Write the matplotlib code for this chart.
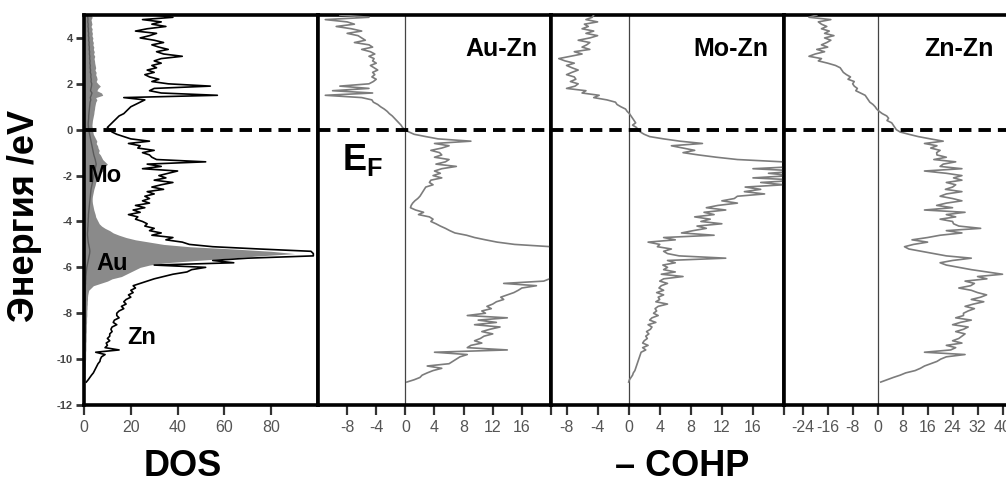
import numpy as np
import matplotlib
matplotlib.use("Agg")
import matplotlib.pyplot as plt

plt.rcParams['font.family'] = ['Liberation Sans', 'DejaVu Sans']
plt.rcParams['mathtext.fontset'] = 'custom'
plt.rcParams['mathtext.bf'] = 'Liberation Sans:bold'
plt.rcParams['mathtext.rm'] = 'Liberation Sans'

# Energy grid (eV), from +5.0 down to -11.0 in 0.1 eV steps
energy = np.round(np.linspace(5.0, -11.0, 161), 2)

# DOS (states/eV) -- Zn (black), Au (grey filled), Mo (thin dark grey)
dos_zn = [30, 38, 25, 33, 29, 35, 27, 22, 31, 28, 24,
          30, 34, 29, 32, 36, 31, 34, 42, 33, 30,
          33, 29, 31, 27, 30, 26, 28, 32, 29, 36,
          54, 30, 28, 33, 57, 17, 26, 24, 22, 20,
          19, 18, 17, 15, 14, 13, 12, 11, 10, 11,
          12, 14, 17, 20, 28, 19, 24, 23, 30, 25,
          28, 29, 31, 52, 27, 33, 25, 40, 36, 32,
          35, 30, 38, 33, 29, 34, 27, 30, 26, 28,
          25, 28, 22, 26, 21, 24, 19, 23, 22, 25,
          27, 26, 30, 28, 33, 29, 38, 35, 42, 45,
          55, 75, 97, 98, 98, 70, 55, 64, 30, 52,
          46, 44, 38, 34, 30, 27, 24, 21, 22, 20,
          21, 19, 20, 18, 17, 18, 16, 17, 15, 14,
          14, 15, 13, 12.5, 14, 12, 11.5, 12, 11, 11,
          10, 11, 9.5, 10, 9, 15, 5, 9, 7.5, 7,
          6.8, 6, 5.5, 5, 4.5, 4, 3.2, 2.5, 1.8, 1.0]
dos_au = [3, 3.5, 3, 3.2, 3.4, 3, 3.5, 3.3, 3.6, 3.4, 3.8,
          3.6, 4, 3.8, 4.2, 4, 4.4, 4.1, 4.6, 4.3, 4.5,
          4.6, 4.8, 5, 4.7, 5.2, 5, 5.4, 5.6, 5.2, 6,
          7, 6, 5.5, 7.5, 8, 5, 5.5, 5, 4.8, 4.6,
          4.5, 4.3, 4.2, 4, 3.8, 3.6, 3.5, 3.4, 3.5, 3.6,
          3.8, 4, 4.5, 5, 5.5, 5.2, 5.8, 6, 6.5, 6.2,
          7, 7.5, 8, 9, 10, 9, 8.5, 8, 7, 6.5,
          6, 5.5, 5, 4.8, 4.5, 4.2, 4, 3.8, 3.6, 3.5,
          3.5, 3.6, 3.8, 4, 4.2, 4.5, 4.8, 5, 5.5, 6,
          6.5, 7.5, 9, 11, 12.5, 15, 18, 22, 28, 34,
          45, 64, 80, 90, 75, 62, 48, 35, 28, 24,
          22, 20, 18, 16, 12, 10, 7, 4, 3, 2,
          1.8, 1.6, 1.5, 1.5, 1.4, 1.4, 1.3, 1.3, 1.2, 1.2,
          1.2, 1.1, 1.1, 1.1, 1.0, 1.0, 1.0, 1.0, 0.9, 0.9,
          0.9, 0.9, 0.8, 0.8, 0.8, 0.8, 0.7, 0.7, 0.7, 0.7,
          0.6, 0.6, 0.6, 0.5, 0.5, 0.5, 0.4, 0.4, 0.3, 0.2]
dos_mo = [1.5, 1.6, 1.7, 1.6, 1.8, 1.7, 1.9, 1.8, 2.0, 1.9, 2.1,
          2.0, 2.2, 2.1, 2.3, 2.2, 2.4, 2.3, 2.5, 2.4, 2.6,
          2.5, 2.7, 2.6, 2.8, 2.7, 3.0, 2.9, 3.1, 3.0, 3.3,
          3.2, 3.0, 2.8, 3.4, 3.1, 2.7, 2.9, 2.6, 2.5, 2.4,
          2.3, 2.2, 2.1, 2.0, 2.0, 1.9, 1.8, 1.8, 1.9, 2.0,
          2.2, 2.4, 2.6, 2.8, 3.0, 3.2, 3.4, 3.6, 3.8, 4.0,
          4.2, 4.5, 4.8, 5.0, 5.2, 5.0, 4.8, 4.6, 4.4, 4.2,
          4.0, 3.8, 3.6, 3.4, 3.2, 3.0, 2.9, 2.8, 2.7, 2.6,
          2.5, 2.4, 2.3, 2.2, 2.1, 2.0, 1.9, 1.9, 1.8, 1.8,
          1.7, 1.7, 1.6, 1.6, 1.5, 1.5, 1.6, 1.7, 1.8, 2.0,
          2.2, 2.4, 2.5, 2.4, 2.2, 2.0, 1.8, 1.6, 1.4, 1.2,
          1.1, 1.0, 0.9, 0.8, 0.8, 0.7, 0.7, 0.6, 0.6, 0.6,
          0.5, 0.5, 0.5, 0.5, 0.5, 0.4, 0.4, 0.4, 0.4, 0.4,
          0.4, 0.4, 0.4, 0.3, 0.3, 0.3, 0.3, 0.3, 0.3, 0.3,
          0.3, 0.3, 0.2, 0.2, 0.2, 0.2, 0.2, 0.2, 0.2, 0.2,
          0.2, 0.2, 0.1, 0.1, 0.1, 0.1, 0.1, 0.1, 0.1, 0.0]

# -COHP curves
cohp_auzn = [-9, -5, -11, -8, -7, -9.5, -7.4, -6, -8, -6.5, -6,
             -5.5, -7, -5, -4.5, -6, -4.8, -4.2, -5, -4.3, -4.5,
             -4, -4.8, -4.3, -3.8, -4.5, -4.2, -4.6, -4, -4.4, -5,
             -9, -5, -10, -4.5, -11, -6, -4.6, -4.4, -3.8, -3.4,
             -2.9, -2.5, -2.2, -1.8, -1.5, -1.2, -0.9, -0.6, -0.4, -0.1,
             0.5, 1.2, 2.8, 4.5, 9, 4, 6, 5, 3.5, 4.7,
             5, 4, 6, 5.5, 4.2, 7, 5, 4, 4.8, 3.8,
             5, 3.5, 3.3, 3.8, 2.8, 2.6, 2.4, 2.2, 2, 1.7,
             1.3, 1, 0.8, 0.7, 1.4, 2.5, 1.8, 3.3, 3.8, 3.5,
             4.2, 4.8, 5.5, 6.1, 6.8, 8.4, 9.5, 11, 12.6, 15,
             20, 22, 23, 24, 24, 24, 24, 23, 23, 23,
             24, 23, 22, 21, 19.8, 19, 13.5, 18, 16, 15.5,
             14.9, 14, 13.1, 13.5, 12.5, 12, 11.2, 11.8, 10.5, 11,
             8.5, 14, 10, 12.5, 9.5, 13, 11.6, 10.5, 12, 10.8,
             10.3, 9.5, 10.5, 9, 8.5, 14, 4, 8.5, 7.5, 7,
             6.5, 6, 3, 5, 3.8, 3, 2.3, 2, 1.2, 0.2]
cohp_mozn = [-4.5, -4.7, -5.5, -4, -5.7, -5.2, -6, -4.5, -5.5, -4, -5,
             -6.5, -5, -5.4, -6, -5, -7, -6, -7.5, -9, -8.2,
             -7, -8, -7.3, -6.5, -7.3, -8, -7, -6.8, -7.5, -6.5,
             -6.9, -8, -5.5, -6, -3.8, -4.5, -2.8, -1.7, -1.5, -1,
             -0.4, -0.2, 0.1, 0.3, 0.5, 0.7, 0.9, 0.5, 1.0, 1.2,
             1.5, 2.0, 2.7, 4.5, 6.6, 9.5, 5.5, 7, 8.5, 7,
             9, 11.3, 14, 19.8, 21, 22, 16, 22, 18, 21,
             16, 22, 17, 20, 15, 17, 14.9, 17.5, 14, 13.6,
             12, 14, 11.5, 10, 12.5, 9.7, 11, 8.5, 10.5, 9.3,
             12, 8.8, 10, 8.3, 6.8, 11, 4.5, 6, 2.5, 4,
             3.7, 5.5, 4.5, 5, 6.5, 12.5, 5, 6, 4.4, 5,
             4.5, 6, 4.2, 7, 4.5, 4, 5, 4.2, 3.9, 4.5,
             3.6, 4.5, 3.8, 4, 3.5, 5, 3.8, 3.4, 3.6, 3.2,
             3.8, 3, 2.7, 3.5, 2.5, 3, 2.8, 2.3, 2.6, 2.2,
             2.4, 2, 1.8, 2.5, 1.8, 2.2, 1.6, 1.5, 1.4, 1.3,
             1.2, 1.1, 1, 0.9, 0.8, 0.6, 0.5, 0.3, 0.1, 0.0]
cohp_znzn = [-19.5, -22, -15, -19, -18, -16.3, -18, -15.5, -17, -14, -17,
             -15, -16.3, -18, -16, -19.5, -17, -20, -22, -18, -19,
             -16, -13.5, -12, -11.5, -11, -10, -8.7, -9.5, -7.5, -8,
             -7.5, -6.5, -7, -5.5, -4, -3.5, -3, -2.5, -1.5, -0.8,
             -0.3, 0.5, 1.5, 2.9, 3.5, 3, 4.5, 5, 5.5, 6,
             7.2, 10, 13, 16.9, 21, 15, 19, 17, 20, 18.9,
             19, 22, 18, 25, 21, 20, 27, 15, 22, 27,
             24.3, 27, 22, 25, 24, 21.7, 27, 22, 20, 24,
             27, 22, 18.9, 24, 15, 28, 22, 25, 20, 24,
             24.3, 26, 33, 22, 27, 20, 16, 11, 16, 11.5,
             8.6, 10, 14, 18, 22, 30, 24, 20, 22, 26,
             30, 34.9, 40, 32, 35, 28, 31, 29.8, 26, 30,
             32, 34.9, 33, 30, 34, 30.7, 28, 31, 29, 27.5,
             27.5, 25, 30, 26.5, 24, 29, 27.5, 25, 28, 27,
             26, 24, 27, 22, 25, 23.4, 15, 28, 22, 20.2,
             19, 17, 15, 13.7, 12, 9, 7.2, 5, 3, 1]

dos_ticks = [0, 20, 40, 60, 80]
cohp_ticks = [-8, -4, 0, 4, 8, 12, 16, 20]
cohp_labels = ['-8', '-4', '0', '4', '8', '12', '16', '']
znzn_ticks = [-24, -16, -8, 0, 8, 16, 24, 32, 40]
y_ticks = [-12, -10, -8, -6, -4, -2, 0, 2, 4]
pair_names = ['Au-Zn', 'Mo-Zn', 'Zn-Zn']

W, H = 1006, 483
fig = plt.figure(figsize=(W / 100, H / 100), dpi=100)

def px_axes(x0, x1, y0=15, y1=405):
    return fig.add_axes([x0 / W, (H - y1) / H, (x1 - x0) / W, (y1 - y0) / H])

ax1 = px_axes(84, 318)
ax2 = px_axes(318, 551)
ax3 = px_axes(551, 784)
ax4 = px_axes(784, 1015)
axes = [ax1, ax2, ax3, ax4]

tick_font = dict(family=['Liberation Sans Narrow', 'Liberation Sans', 'DejaVu Sans'],
                 size=11.5, color='#555555')

for ax in axes:
    ax.set_ylim(-12, 5)
    for s in ax.spines.values():
        s.set_linewidth(2.6)
        s.set_color('black')
    ax.tick_params(axis='x', direction='out', length=7, width=1.6, color='#333333', pad=4)
    ax.axhline(0, color='black', lw=2.8, ls=(0, (3.2, 1.8)), zorder=5)

ax4.spines['right'].set_visible(False)

# Panel 1: DOS
ax1.fill_betweenx(energy, 0, dos_au, color='#8a8a8a', lw=0, zorder=1)
ax1.plot(dos_mo, energy, color='#5a5a5a', lw=1.0, zorder=2)
ax1.plot(dos_zn, energy, color='black', lw=1.2, zorder=3)
ax1.set_xlim(0, 100)
ax1.set_xticks(dos_ticks)
ax1.set_xticklabels([str(t) for t in dos_ticks], **tick_font)
ax1.set_yticks(y_ticks)
ax1.set_yticklabels([str(t) for t in y_ticks], fontsize=8, fontweight='bold', color='#444444')
ax1.tick_params(axis='y', direction='out', length=6, width=2, color='#333333', pad=2)

for txt, xp, yp in [('Mo', 104, 175), ('Au', 112, 263), ('Zn', 142, 338)]:
    fig.text(xp / W, 1 - yp / H, txt, fontsize=17, fontweight='bold',
             ha='center', va='center', zorder=10)

# COHP panels
cohp_data = [cohp_auzn, cohp_mozn, cohp_znzn]
xlims = [(-12, 20), (-10, 20), (-30, 44)]
for ax, data, xl in zip(axes[1:], cohp_data, xlims):
    ax.plot(data, energy, color='#7c7c7c', lw=1.2, zorder=3)
    ax.axvline(0, color='#444444', lw=0.9, zorder=2)
    ax.set_xlim(*xl)
    ax.set_yticks([])

for ax in (ax2, ax3):
    ax.set_xticks(cohp_ticks)
    ax.set_xticklabels(cohp_labels, **tick_font)
ax4.set_xticks(znzn_ticks)
ax4.set_xticklabels([str(t) for t in znzn_ticks], **tick_font)

# pair labels
for name, xr in zip(pair_names, [537, 768, 994]):
    fig.text(xr / W, 1 - 49 / H, name, fontsize=18, fontweight='bold',
             ha='right', va='center')

# Fermi level label
fig.text(342 / W, 1 - 160 / H, r'$\mathbf{E_F}$', fontsize=26, ha='left', va='center')

# axis titles
fig.text(25 / W, 1 - 216 / H, 'Энергия /eV', rotation=90, fontsize=26,
         fontweight='bold', ha='center', va='center')
fig.text(183 / W, 1 - 466 / H, 'DOS', fontsize=26, fontweight='bold',
         ha='center', va='center')
fig.text(682 / W, 1 - 466 / H, '– COHP', fontsize=26, fontweight='bold',
         ha='center', va='center')

fig.savefig('out.png', dpi=100, facecolor='white')
